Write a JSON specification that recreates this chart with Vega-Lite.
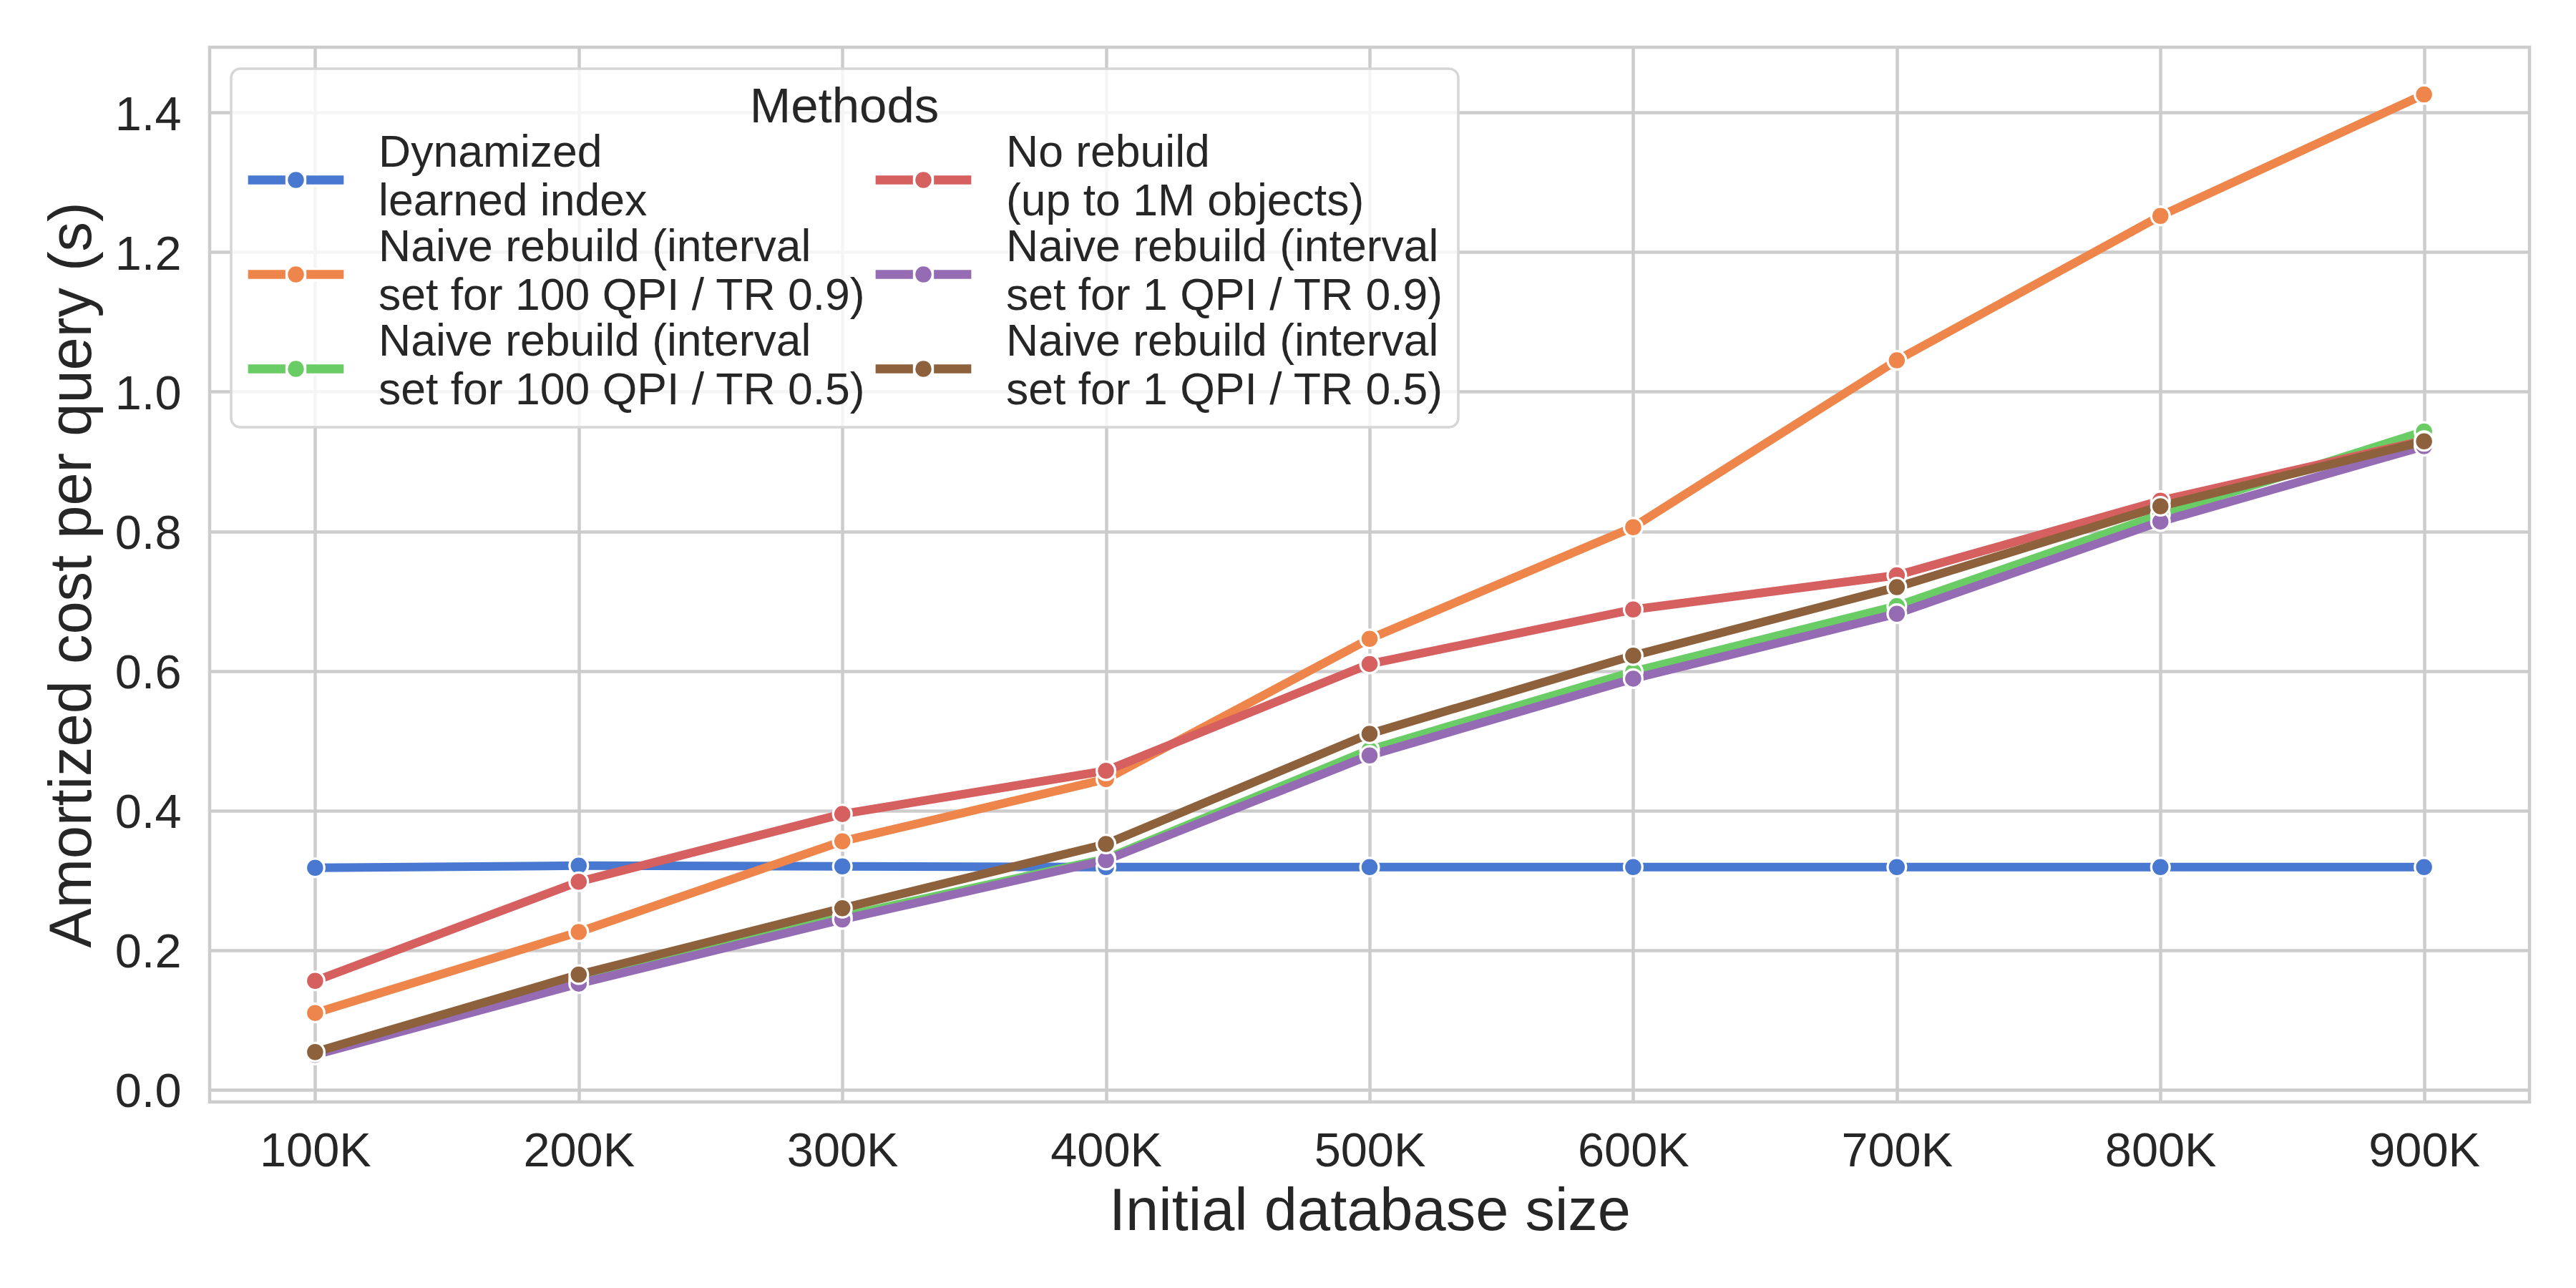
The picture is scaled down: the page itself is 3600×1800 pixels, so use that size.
{
  "$schema": "https://vega.github.io/schema/vega-lite/v6.json",
  "width": 3242,
  "height": 1474,
  "autosize": {"type": "none"},
  "padding": {"left": 293, "top": 66, "right": 65, "bottom": 260},
  "background": "white",
  "data": {
    "values": [
      {"size": 100000, "cost": 0.318, "method": "Dynamized\nlearned index"},
      {"size": 200000, "cost": 0.321, "method": "Dynamized\nlearned index"},
      {"size": 300000, "cost": 0.320, "method": "Dynamized\nlearned index"},
      {"size": 400000, "cost": 0.319, "method": "Dynamized\nlearned index"},
      {"size": 500000, "cost": 0.319, "method": "Dynamized\nlearned index"},
      {"size": 600000, "cost": 0.319, "method": "Dynamized\nlearned index"},
      {"size": 700000, "cost": 0.319, "method": "Dynamized\nlearned index"},
      {"size": 800000, "cost": 0.319, "method": "Dynamized\nlearned index"},
      {"size": 900000, "cost": 0.319, "method": "Dynamized\nlearned index"},
      {"size": 100000, "cost": 0.110, "method": "Naive rebuild (interval\nset for 100 QPI / TR 0.9)"},
      {"size": 200000, "cost": 0.226, "method": "Naive rebuild (interval\nset for 100 QPI / TR 0.9)"},
      {"size": 300000, "cost": 0.356, "method": "Naive rebuild (interval\nset for 100 QPI / TR 0.9)"},
      {"size": 400000, "cost": 0.445, "method": "Naive rebuild (interval\nset for 100 QPI / TR 0.9)"},
      {"size": 500000, "cost": 0.646, "method": "Naive rebuild (interval\nset for 100 QPI / TR 0.9)"},
      {"size": 600000, "cost": 0.806, "method": "Naive rebuild (interval\nset for 100 QPI / TR 0.9)"},
      {"size": 700000, "cost": 1.045, "method": "Naive rebuild (interval\nset for 100 QPI / TR 0.9)"},
      {"size": 800000, "cost": 1.252, "method": "Naive rebuild (interval\nset for 100 QPI / TR 0.9)"},
      {"size": 900000, "cost": 1.426, "method": "Naive rebuild (interval\nset for 100 QPI / TR 0.9)"},
      {"size": 100000, "cost": 0.052, "method": "Naive rebuild (interval\nset for 100 QPI / TR 0.5)"},
      {"size": 200000, "cost": 0.158, "method": "Naive rebuild (interval\nset for 100 QPI / TR 0.5)"},
      {"size": 300000, "cost": 0.248, "method": "Naive rebuild (interval\nset for 100 QPI / TR 0.5)"},
      {"size": 400000, "cost": 0.331, "method": "Naive rebuild (interval\nset for 100 QPI / TR 0.5)"},
      {"size": 500000, "cost": 0.487, "method": "Naive rebuild (interval\nset for 100 QPI / TR 0.5)"},
      {"size": 600000, "cost": 0.599, "method": "Naive rebuild (interval\nset for 100 QPI / TR 0.5)"},
      {"size": 700000, "cost": 0.693, "method": "Naive rebuild (interval\nset for 100 QPI / TR 0.5)"},
      {"size": 800000, "cost": 0.824, "method": "Naive rebuild (interval\nset for 100 QPI / TR 0.5)"},
      {"size": 900000, "cost": 0.943, "method": "Naive rebuild (interval\nset for 100 QPI / TR 0.5)"},
      {"size": 100000, "cost": 0.156, "method": "No rebuild\n(up to 1M objects)"},
      {"size": 200000, "cost": 0.298, "method": "No rebuild\n(up to 1M objects)"},
      {"size": 300000, "cost": 0.395, "method": "No rebuild\n(up to 1M objects)"},
      {"size": 400000, "cost": 0.457, "method": "No rebuild\n(up to 1M objects)"},
      {"size": 500000, "cost": 0.610, "method": "No rebuild\n(up to 1M objects)"},
      {"size": 600000, "cost": 0.688, "method": "No rebuild\n(up to 1M objects)"},
      {"size": 700000, "cost": 0.737, "method": "No rebuild\n(up to 1M objects)"},
      {"size": 800000, "cost": 0.844, "method": "No rebuild\n(up to 1M objects)"},
      {"size": 900000, "cost": 0.930, "method": "No rebuild\n(up to 1M objects)"},
      {"size": 100000, "cost": 0.050, "method": "Naive rebuild (interval\nset for 1 QPI / TR 0.9)"},
      {"size": 200000, "cost": 0.152, "method": "Naive rebuild (interval\nset for 1 QPI / TR 0.9)"},
      {"size": 300000, "cost": 0.244, "method": "Naive rebuild (interval\nset for 1 QPI / TR 0.9)"},
      {"size": 400000, "cost": 0.329, "method": "Naive rebuild (interval\nset for 1 QPI / TR 0.9)"},
      {"size": 500000, "cost": 0.479, "method": "Naive rebuild (interval\nset for 1 QPI / TR 0.9)"},
      {"size": 600000, "cost": 0.589, "method": "Naive rebuild (interval\nset for 1 QPI / TR 0.9)"},
      {"size": 700000, "cost": 0.682, "method": "Naive rebuild (interval\nset for 1 QPI / TR 0.9)"},
      {"size": 800000, "cost": 0.814, "method": "Naive rebuild (interval\nset for 1 QPI / TR 0.9)"},
      {"size": 900000, "cost": 0.922, "method": "Naive rebuild (interval\nset for 1 QPI / TR 0.9)"},
      {"size": 100000, "cost": 0.054, "method": "Naive rebuild (interval\nset for 1 QPI / TR 0.5)"},
      {"size": 200000, "cost": 0.165, "method": "Naive rebuild (interval\nset for 1 QPI / TR 0.5)"},
      {"size": 300000, "cost": 0.260, "method": "Naive rebuild (interval\nset for 1 QPI / TR 0.5)"},
      {"size": 400000, "cost": 0.352, "method": "Naive rebuild (interval\nset for 1 QPI / TR 0.5)"},
      {"size": 500000, "cost": 0.510, "method": "Naive rebuild (interval\nset for 1 QPI / TR 0.5)"},
      {"size": 600000, "cost": 0.622, "method": "Naive rebuild (interval\nset for 1 QPI / TR 0.5)"},
      {"size": 700000, "cost": 0.720, "method": "Naive rebuild (interval\nset for 1 QPI / TR 0.5)"},
      {"size": 800000, "cost": 0.836, "method": "Naive rebuild (interval\nset for 1 QPI / TR 0.5)"},
      {"size": 900000, "cost": 0.929, "method": "Naive rebuild (interval\nset for 1 QPI / TR 0.5)"}
    ]
  },
  "encoding": {
    "x": {
      "field": "size",
      "type": "quantitative",
      "scale": {"domain": [60000, 940000], "nice": false, "zero": false},
      "axis": {
        "title": "Initial database size",
        "values": [100000, 200000, 300000, 400000, 500000, 600000, 700000, 800000, 900000],
        "labelExpr": "format(datum.value / 1000, 'd') + 'K'"
      }
    },
    "y": {
      "field": "cost",
      "type": "quantitative",
      "scale": {"domain": [-0.0175, 1.4936], "nice": false, "zero": false},
      "axis": {
        "title": "Amortized cost per query (s)",
        "values": [0, 0.2, 0.4, 0.6, 0.8, 1.0, 1.2, 1.4],
        "format": ".1f"
      }
    }
  },
  "layer": [
    {
      "mark": {"type": "line", "strokeWidth": 12, "strokeCap": "square", "strokeJoin": "round"},
      "encoding": {
        "stroke": {
          "field": "method",
          "type": "nominal",
          "scale": {
            "domain": [
              "Dynamized\nlearned index",
              "No rebuild\n(up to 1M objects)",
              "Naive rebuild (interval\nset for 100 QPI / TR 0.9)",
              "Naive rebuild (interval\nset for 1 QPI / TR 0.9)",
              "Naive rebuild (interval\nset for 100 QPI / TR 0.5)",
              "Naive rebuild (interval\nset for 1 QPI / TR 0.5)"
            ],
            "range": ["#4878D0", "#D65F5F", "#EE854A", "#956CB4", "#6ACC64", "#8C613C"]
          },
          "legend": null
        }
      }
    },
    {
      "mark": {"type": "point", "shape": "circle", "filled": true, "size": 666, "stroke": "white", "strokeWidth": 3.3, "opacity": 1},
      "encoding": {
        "fill": {
          "field": "method",
          "type": "nominal",
          "scale": {
            "domain": [
              "Dynamized\nlearned index",
              "Naive rebuild (interval\nset for 100 QPI / TR 0.9)",
              "Naive rebuild (interval\nset for 100 QPI / TR 0.5)",
              "No rebuild\n(up to 1M objects)",
              "Naive rebuild (interval\nset for 1 QPI / TR 0.9)",
              "Naive rebuild (interval\nset for 1 QPI / TR 0.5)"
            ],
            "range": ["#4878D0", "#EE854A", "#6ACC64", "#D65F5F", "#956CB4", "#8C613C"]
          },
          "legend": {
            "title": "Methods",
            "orient": "top-left",
            "offset": 30,
            "columns": 2,
            "columnPadding": 5,
            "rowPadding": -4,
            "padding": 20,
            "titleAnchor": "middle",
            "titlePadding": -4,
            "titleLimit": 2000,
            "labelExpr": "split(datum.label, '\\n')",
            "labelLimit": 2000,
            "labelOffset": 45,
            "symbolType": "M-1,-0.114H-0.19V0.114H-1Z M0.19,-0.114H1V0.114H0.19Z M0.188,0A0.188,0.188 0 1,1 -0.188,0A0.188,0.188 0 1,1 0.188,0Z",
            "symbolSize": 18769,
            "symbolStrokeColor": "white",
            "symbolStrokeWidth": 3.3,
            "symbolOpacity": 1,
            "encode": {
              "symbols": {"update": {"stroke": {"value": "white"}, "strokeWidth": {"value": 3.3}, "opacity": {"value": 1}}},
              "labels": {"update": {"dy": {"value": -38}, "lineHeight": {"value": 68}}}
            }
          }
        }
      }
    }
  ],
  "config": {
    "font": "Liberation Sans",
    "view": {"stroke": "#cccccc", "strokeWidth": 4.5},
    "axis": {
      "labelFont": "Liberation Sans",
      "labelFontSize": 66.7,
      "labelColor": "#262626",
      "titleFont": "Liberation Sans",
      "titleFontSize": 83,
      "titleFontWeight": "normal",
      "titleColor": "#262626",
      "ticks": false,
      "tickSize": 0,
      "domain": false,
      "grid": true,
      "gridColor": "#cccccc",
      "gridWidth": 4.5,
      "labelFlush": false,
      "labelOverlap": false
    },
    "axisX": {"labelPadding": 36, "titlePadding": 10},
    "axisY": {"labelPadding": 40, "titlePadding": 17, "labelOffset": 4},
    "legend": {
      "labelFont": "Liberation Sans",
      "labelFontSize": 62.5,
      "labelColor": "#262626",
      "titleFont": "Liberation Sans",
      "titleFontSize": 69,
      "titleFontWeight": "normal",
      "titleColor": "#262626",
      "fillColor": "rgba(255,255,255,0.8)",
      "strokeColor": "#d6d6d6",
      "strokeWidth": 3.5,
      "cornerRadius": 13
    }
  }
}
